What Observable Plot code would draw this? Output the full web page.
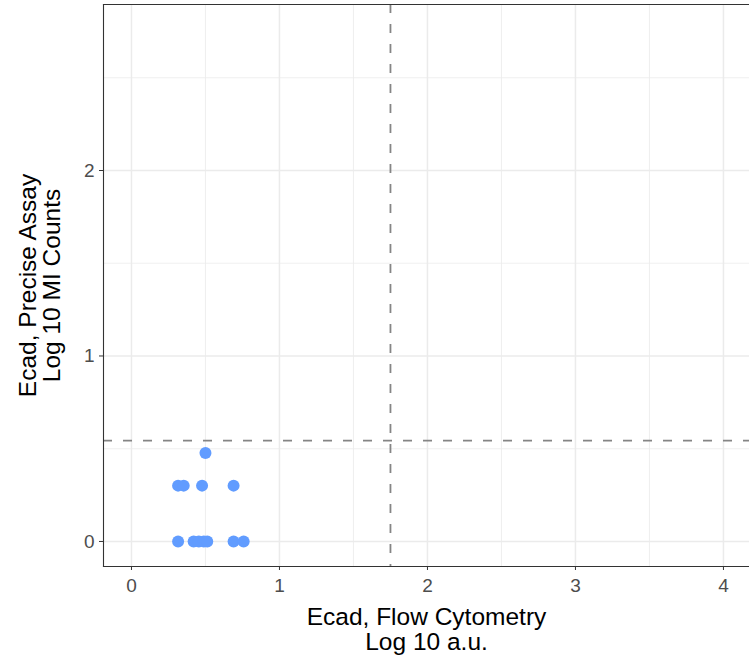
<!DOCTYPE html>
<html>
<head>
<meta charset="utf-8">
<script src="https://cdn.jsdelivr.net/npm/d3@7"></script>
<script src="https://cdn.jsdelivr.net/npm/@observablehq/plot@0.6"></script>
<style>
  html, body { margin: 0; padding: 0; background: #ffffff; }
  #chart svg { display: block; }
</style>
</head>
<body>
<div id="chart"></div>
<script>
// Ecad measurements: flow cytometry (log10 a.u.) vs precise assay (log10 MI counts)
const flowLog = [0.315, 0.42, 0.455, 0.489, 0.512, 0.69, 0.758, 0.315, 0.353, 0.477, 0.69, 0.50];
const assayLog = [0, 0, 0, 0, 0, 0, 0, 0.301, 0.301, 0.301, 0.301, 0.477];

// Threshold lines
const flowCutoff = [1.75];
const assayCutoff = [0.544];

// Axis ticks and gridlines
const xTicks = [0, 1, 2, 3, 4];
const xMinor = [0.5, 1.5, 2.5, 3.5];
const yTicks = [0, 1, 2];
const yMinor = [0.5, 1.5, 2.5];

const xTitle = "Ecad, Flow Cytometry\nLog 10 a.u.";
const yTitle = "Ecad, Precise Assay\nLog 10 MI Counts";

const points = flowLog.map((x, i) => ({x, y: assayLog[i]}));

const font = "'Liberation Sans', Arial, Helvetica, sans-serif";

const plot = Plot.plot({
  width: 749,
  height: 664,
  marginLeft: 103,
  marginRight: 0,
  marginTop: 4,
  marginBottom: 98,
  style: {fontFamily: font, background: "#ffffff"},
  x: {domain: [-0.189, 4.176], ticks: xTicks},
  y: {domain: [-0.135, 2.895], ticks: yTicks},
  marks: [
    // minor grid
    Plot.ruleX(xMinor, {stroke: "#ebebeb", strokeWidth: 0.8}),
    Plot.ruleY(yMinor, {stroke: "#ebebeb", strokeWidth: 0.8}),
    // major grid
    Plot.ruleX(xTicks, {stroke: "#ebebeb", strokeWidth: 1.5}),
    Plot.ruleY(yTicks, {stroke: "#ebebeb", strokeWidth: 1.5}),
    // threshold lines
    Plot.ruleX(flowCutoff, {stroke: "#858585", strokeWidth: 1.8, strokeDasharray: "9,11"}),
    Plot.ruleY(assayCutoff, {stroke: "#858585", strokeWidth: 1.8, strokeDasharray: "9,11"}),
    // points
    Plot.dot(points, {x: "x", y: "y", r: 6, fill: "#619cff", stroke: "none"}),
    // panel border (left, top, bottom)
    Plot.frame({anchor: "left", stroke: "#333333", strokeWidth: 1.1}),
    Plot.frame({anchor: "top", stroke: "#333333", strokeWidth: 1.1}),
    Plot.frame({anchor: "bottom", stroke: "#333333", strokeWidth: 1.1}),
    // axes
    Plot.axisX({ticks: xTicks, tickFormat: d => String(d), tickSize: 4, tickPadding: 8,
      stroke: "#333333", fill: "#4d4d4d", fontSize: 19, label: null}),
    Plot.axisY({ticks: yTicks, tickFormat: d => String(d), tickSize: 4, tickPadding: 5,
      stroke: "#333333", fill: "#4d4d4d", fontSize: 19, label: null}),
    // axis titles
    Plot.text([xTitle], {frameAnchor: "bottom", dy: 63, lineAnchor: "middle", lineHeight: 1.0,
      fontSize: 24.5, fill: "#000000", text: d => d}),
    Plot.text([yTitle], {frameAnchor: "left", dx: -63.5, rotate: -90, textAnchor: "middle",
      lineAnchor: "middle", lineHeight: 1.0, fontSize: 24.5, fill: "#000000", text: d => d})
  ]
});

document.getElementById("chart").appendChild(plot);
</script>
</body>
</html>
